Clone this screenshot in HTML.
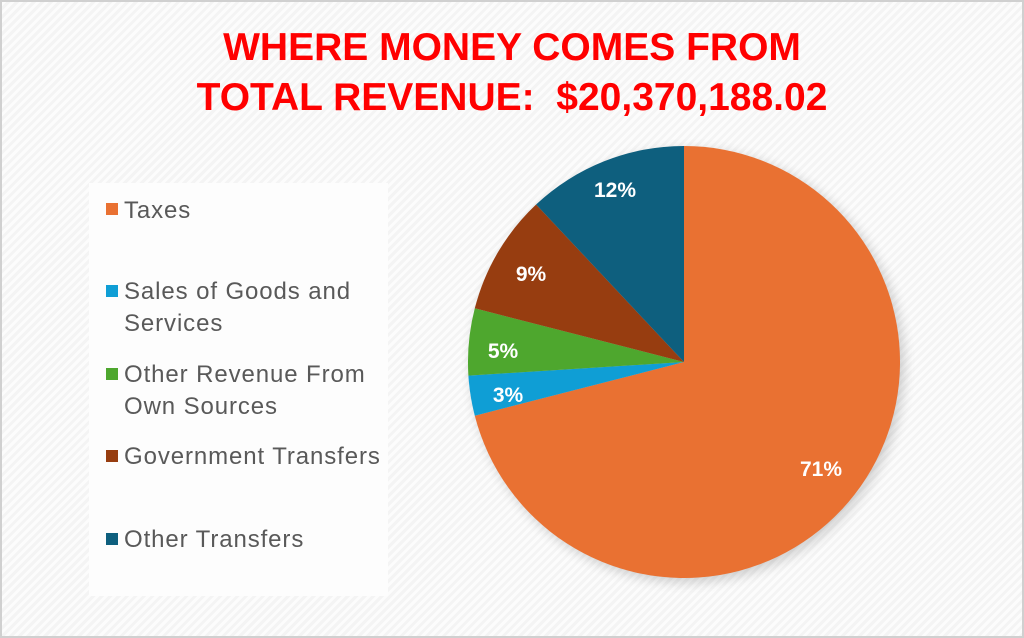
<!DOCTYPE html>
<html><head><style>
html,body{margin:0;padding:0;}
body{width:1024px;height:638px;position:relative;overflow:hidden;font-family:"Liberation Sans",sans-serif;
background:repeating-linear-gradient(135deg,#f4f4f4 0 3px,#fcfcfc 3px 6px);}
.frame{position:absolute;left:0;top:0;width:1020px;height:634px;border:2px solid #d0d0d0;}
.t{position:absolute;left:0;width:1024px;text-align:center;color:#ff0000;font-weight:bold;font-size:39px;line-height:45px;}
.leg{position:absolute;left:89px;top:183px;width:299px;height:413px;background:#fdfdfd;}
.li{position:absolute;left:124px;color:#595959;font-size:24px;line-height:32px;letter-spacing:0.9px;white-space:nowrap;}
.sw{position:absolute;left:106px;width:12px;height:12px;}
</style></head><body>
<div class="frame"></div>
<div class="t" style="top:25px">WHERE MONEY COMES FROM</div>
<div class="t" style="top:75px">TOTAL REVENUE:&nbsp; $20,370,188.02</div>
<div class="leg"></div>
<div class="sw" style="top:203px;background:#e97132"></div><div class="li" style="top:195px">Taxes</div>
<div class="sw" style="top:285px;background:#0f9ed5"></div><div class="li" style="top:276px">Sales of Goods and<br>Services</div>
<div class="sw" style="top:368px;background:#4ea72e"></div><div class="li" style="top:359px">Other Revenue From<br>Own Sources</div>
<div class="sw" style="top:450px;background:#973d10"></div><div class="li" style="top:441px">Government Transfers</div>
<div class="sw" style="top:533px;background:#0e5f7e"></div><div class="li" style="top:524px">Other Transfers</div>
<svg width="1024" height="638" style="position:absolute;left:0;top:0">
<defs><filter id="sh" x="-20%" y="-20%" width="140%" height="140%"><feGaussianBlur stdDeviation="6"/></filter></defs>
<circle cx="688" cy="366" r="216" fill="#000" opacity="0.18" filter="url(#sh)"/>
<path d="M684 362 L684 146 A216 216 0 1 1 474.8 415.7Z" fill="#e97132"/>
<path d="M684 362 L474.8 415.7 A216 216 0 0 1 468.4 375.6Z" fill="#0f9ed5"/>
<path d="M684 362 L468.4 375.6 A216 216 0 0 1 474.8 308.3Z" fill="#4ea72e"/>
<path d="M684 362 L474.8 308.3 A216 216 0 0 1 536.1 204.5Z" fill="#973d10"/>
<path d="M684 362 L536.1 204.5 A216 216 0 0 1 684 146Z" fill="#0e5f7e"/>
<g fill="#fff" font-family="Liberation Sans, sans-serif" font-weight="bold" font-size="21" text-anchor="middle">
<text x="821" y="476">71%</text>
<text x="508" y="402">3%</text>
<text x="503" y="358">5%</text>
<text x="531" y="281">9%</text>
<text x="615" y="197">12%</text>
</g>
</svg>
</body></html>
